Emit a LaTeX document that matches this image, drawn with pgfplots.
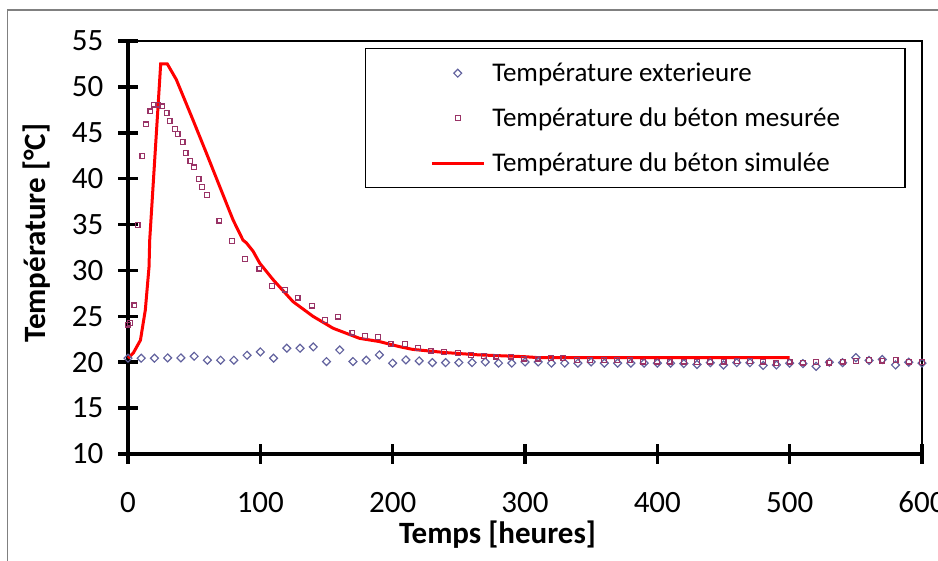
\documentclass[border=0pt]{standalone}
\usepackage{pgfplots}
\pgfplotsset{compat=1.18}
\usepackage{fontspec}
\setmainfont{Carlito}

\definecolor{extc}{RGB}{98,98,158}
\definecolor{betc}{RGB}{153,51,102}
\definecolor{simc}{RGB}{255,0,0}

% temps [h], temperature [C]
\pgfplotstableread{
t T
0 20.44
10 20.44
20 20.44
30 20.47
40 20.47
50 20.65
60 20.22
70 20.22
80 20.22
90 20.76
100 21.12
110 20.44
120 21.53
130 21.53
140 21.67
150 20.07
160 21.34
170 20.07
180 20.22
190 20.8
200 19.9
210 20.25
220 20.14
230 19.96
240 19.96
250 19.96
260 19.96
270 20.03
280 19.9
290 19.9
300 20.03
310 20.03
320 19.9
330 19.9
340 19.9
350 20.03
360 19.9
370 19.9
380 19.9
390 19.9
400 19.9
410 19.9
420 19.85
430 19.75
440 19.95
450 19.7
460 19.95
470 19.95
480 19.65
490 19.7
500 19.9
510 19.85
520 19.55
530 20.0
540 19.95
550 20.5
560 20.2
570 20.3
580 19.7
590 20.0
600 19.9
}\exterieure

\pgfplotstableread{
t T
0 24.1
1.3 24.3
4.8 26.2
7.2 34.95
10.9 42.46
13.4 45.91
16.9 47.33
19.4 48.06
22.7 48.06
25.7 47.87
29.2 47.15
31.5 46.28
35.3 45.4
37.5 44.86
41.3 44.02
43.6 42.79
47.1 41.92
49.9 41.22
53.4 39.99
55.7 39.12
59.5 38.24
69 35.42
78.8 33.2
88.2 31.27
99.3 30.2
108.8 28.29
118.6 27.92
128.2 27.05
139 26.17
148.9 24.61
158.5 24.97
169.6 23.23
179.1 22.87
188.7 22.72
198.5 22.0
209.1 22.0
219.2 21.53
228.7 21.27
238.6 21.09
249.4 20.98
259 20.8
268.8 20.69
278.4 20.61
289.2 20.61
299.3 20.4
309.5 20.4
319.4 20.44
329 20.44
339.1 20.22
349.1 20.22
359.5 20.22
369.5 20.22
379 20.22
389 20.07
399.6 20.07
409.2 20.07
420 20.07
430 20.0
440 20.07
450 20.07
460 20.14
470 20.14
480 20.07
490 19.9
500 20.07
510 19.96
520 20.0
530 19.96
540 20.07
550 20.14
560 20.25
570 20.17
580 20.25
590 20.07
600 20.0
}\mesuree

\pgfplotstableread{
t T
0 20.44
4 21.0
9.4 22.4
13.1 25.7
15.9 30.4
16.4 33.3
24.7 52.5
29.7 52.5
36.5 50.8
49.1 46.4
59.2 42.8
74.4 37.3
79.4 35.5
86.9 33.3
89.5 33.0
94.5 32.1
99.5 30.8
109.6 29.0
124.7 26.6
139.8 25.0
155 23.7
175 22.6
190 22.25
205 21.7
215 21.4
240 21.05
265 20.8
300 20.6
310 20.5
500 20.5
}\simulee

\begin{document}
\begin{tikzpicture}
\useasboundingbox (0bp,0bp) rectangle (938bp,561bp);
\draw[gray, line width=1.5bp] (7.5bp,-20bp) rectangle (980bp,551bp);
\begin{axis}[
    at={(128bp,107bp)}, anchor=south west,
    scale only axis,
    width=794bp, height=413bp,
    xmin=0, xmax=600,
    ymin=10, ymax=55,
    xtick={0,100,...,600},
    ytick={10,15,...,55},
    axis lines*=left,
    axis line style={line width=3.5bp, -},
    tick align=center,
    major tick length=19bp,
    tick style={line width=3.5bp, black},
    clip=false,
    /pgf/number format/assume math mode=true,
    ticklabel style={font=\fontsize{31bp}{31bp}\selectfont},
    xticklabel style={anchor=base, inner sep=0pt, yshift=-49bp},
    yticklabel style={anchor=east, inner sep=0pt},
    yticklabel shift=15bp,
    xlabel={Temps [heures]},
    ylabel={Température [°C]},
    xlabel style={at={(axis description cs:0.4654,-0.2155)}, anchor=base,
        inner sep=0pt, font=\bfseries\fontsize{31bp}{31bp}\selectfont},
    ylabel style={at={(axis description cs:-0.1045,0.535)}, anchor=base,
        inner sep=0pt, font=\bfseries\fontsize{31bp}{31bp}\selectfont},
    legend style={at={(axis description cs:0.298,0.983)}, anchor=north west,
        draw=black, line width=1.3bp, fill=white,
        inner xsep=65bp, inner ysep=13bp,
        row sep=22bp, column sep=7bp,
        font=\fontsize{27bp}{27bp}\selectfont,
        nodes={inner sep=0pt, text height=20bp, text depth=3bp}},
    legend cell align=left,
    legend image code/.code={\draw[mark repeat=2, mark phase=2, #1]
        plot coordinates {(0bp,0bp) (26bp,0bp) (52bp,0bp)};},
]
\addplot[only marks, mark=square, mark size=2.8bp, line width=1.2bp, extc,
    mark options={rotate=45}] table[x=t, y=T] {\exterieure};
\addlegendentry{Température exterieure}
\addplot[only marks, mark=square, mark size=2.4bp, line width=1.2bp, betc]
    table[x=t, y=T] {\mesuree};
\addlegendentry{Température du béton mesurée}
\addplot[simc, line width=3bp, mark=none] table[x=t, y=T] {\simulee};
\addlegendentry{Température du béton simulée}
\draw[black, line width=1.5bp] (rel axis cs:0,1) -- (rel axis cs:1,1) -- (rel axis cs:1,0);
\end{axis}
\end{tikzpicture}
\end{document}
